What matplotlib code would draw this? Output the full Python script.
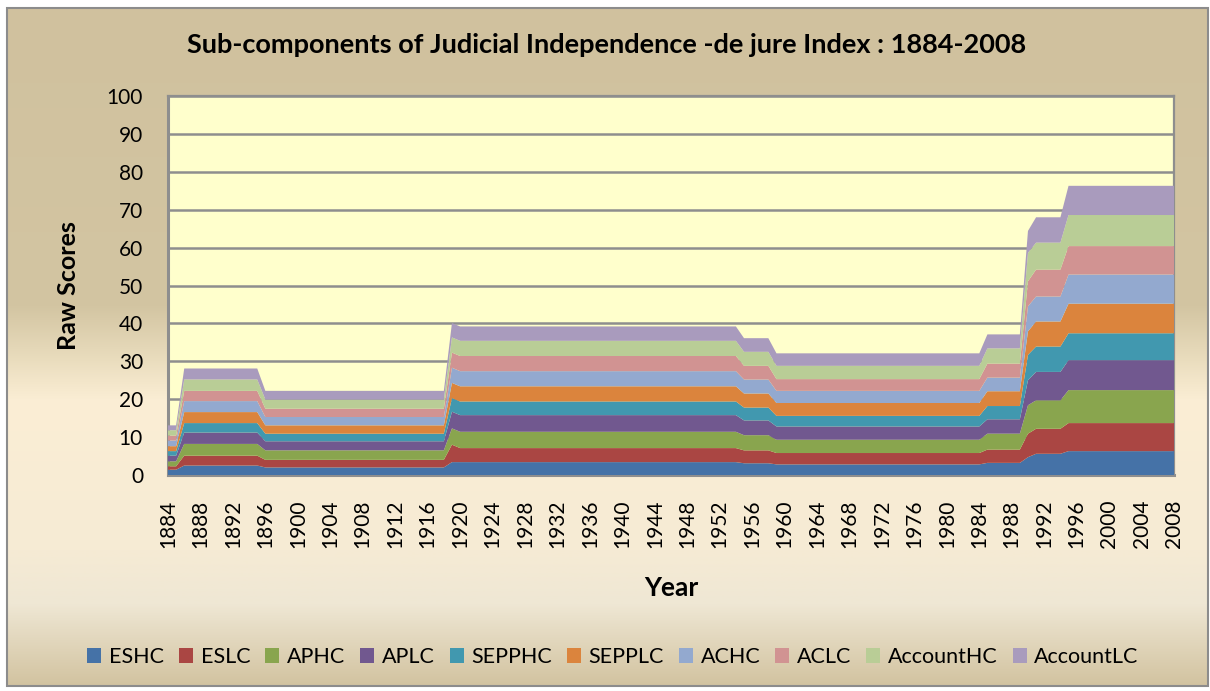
import numpy as np
import matplotlib
matplotlib.use('Agg')
import matplotlib.pyplot as plt
from matplotlib.colors import to_rgb
from matplotlib.patches import Rectangle

plt.rcParams['font.family'] = ['Lato', 'DejaVu Sans']

# Data: each series holds one value per period (the value holds until the next period start)
period_start = [1884, 1886, 1896, 1919, 1920, 1955, 1959, 1985, 1990, 1991, 1995]
ESHC      = [1.4, 2.5, 2.0, 3.4, 3.4, 3.1, 2.8, 3.2, 4.7, 5.6, 6.3]
ESLC      = [0.9, 2.6, 2.0, 4.6, 3.7, 3.4, 3.0, 3.5, 6.2, 6.6, 7.4]
APHC      = [1.3, 3.1, 2.5, 4.3, 4.3, 4.0, 3.5, 4.2, 7.5, 7.5, 8.7]
APLC      = [1.5, 3.0, 2.4, 4.4, 4.4, 3.9, 3.5, 3.8, 6.6, 7.5, 7.9]
SEPPHC    = [1.2, 2.5, 2.0, 3.6, 3.6, 3.4, 2.8, 3.5, 6.7, 6.7, 7.1]
SEPPLC    = [1.3, 2.9, 2.2, 4.0, 4.0, 3.7, 3.4, 3.9, 6.2, 6.6, 7.8]
ACHC      = [1.5, 2.9, 2.2, 4.0, 4.0, 3.7, 3.2, 3.6, 6.6, 6.6, 7.7]
ACLC      = [1.3, 2.7, 2.2, 4.0, 4.0, 3.6, 3.1, 3.7, 6.6, 7.1, 7.5]
AccountHC = [1.4, 3.0, 2.4, 4.0, 4.0, 3.7, 3.5, 4.0, 7.5, 7.1, 8.2]
AccountLC = [1.3, 2.9, 2.3, 3.8, 3.8, 3.6, 3.3, 3.7, 5.8, 6.7, 7.7]

series_names = ['ESHC', 'ESLC', 'APHC', 'APLC', 'SEPPHC', 'SEPPLC',
                'ACHC', 'ACLC', 'AccountHC', 'AccountLC']
series_vals = [ESHC, ESLC, APHC, APLC, SEPPHC, SEPPLC,
               ACHC, ACLC, AccountHC, AccountLC]
first_year, last_year = 1884, 2008

COLOURS = ['#4572A7', '#AA4643', '#89A54E', '#71588F', '#4198AF',
           '#DB843D', '#93A9CF', '#D19392', '#B9CD96', '#A99BBD']

years = np.arange(first_year, last_year + 1)
idx = np.searchsorted(period_start, years, side='right') - 1
stack = [np.asarray(v)[idx] for v in series_vals]

W, H = 1210, 691
fig = plt.figure(figsize=(W / 100, H / 100), dpi=100)

# chart area background (vertical gradient) and border
bg = fig.add_axes([0, 0, 1, 1], zorder=-5)
bg.set_axis_off()
stops = [(0.00, '#D0C19E'), (0.44, '#D3C5A2'), (0.52, '#EADDBE'),
         (0.58, '#FBEED5'), (0.80, '#F6EBD4'), (0.88, '#EFE7D4'),
         (1.00, '#D2C3A0')]
pos = np.array([s[0] for s in stops])
cols = np.array([to_rgb(s[1]) for s in stops])
t = np.linspace(0, 1, 400)
grad = np.stack([np.interp(t, pos, cols[:, k]) for k in range(3)], axis=1)
img = np.repeat(grad[:, None, :], 2, axis=1)
bg.imshow(img, aspect='auto', extent=[7 / W, 1208 / W, 1 - 686 / H, 1 - 8 / H],
          origin='upper', transform=bg.transAxes)
bg.set_xlim(0, 1)
bg.set_ylim(0, 1)
bg.add_patch(Rectangle((7 / W, 1 - 686 / H), 1201 / W, 678 / H,
                       fill=False, edgecolor='#8C8C8C', linewidth=1.5,
                       transform=bg.transAxes))

# plot area
left, right, top, bottom = 168, 1174, 96, 475
ax = fig.add_axes([left / W, 1 - bottom / H, (right - left) / W, (bottom - top) / H])
ax.set_facecolor('#FFFFCC')
ax.stackplot(years, *stack, colors=COLOURS, labels=series_names,
             linewidth=0, zorder=3)

ax.set_xlim(first_year, last_year)
ax.set_ylim(0, 100)
ax.set_yticks(np.arange(0, 101, 10))
ax.set_xticks(np.arange(first_year, last_year + 1, 4))
ax.tick_params(axis='y', length=0, pad=18, labelsize=15)
ax.tick_params(axis='x', length=0, pad=18, labelsize=15, labelrotation=90)
ax.grid(axis='y', color='#8E8E8E', linewidth=1.8, zorder=1)
ax.set_axisbelow(True)
for s in ax.spines.values():
    s.set_color('#8E8E8E')
    s.set_linewidth(1.6)
ax.spines['left'].set_linewidth(2.2)
ax.spines['bottom'].set_linewidth(2.2)

ax.set_ylabel('Raw Scores', fontsize=18, fontweight='bold', labelpad=19)
ax.set_xlabel('Year', fontsize=19, fontweight='bold', labelpad=20)

fig.text(607 / W, 1 - 45 / H,
         'Sub-components of Judicial Independence -de jure Index : 1884-2008',
         ha='center', va='center', fontsize=19.5, fontweight='bold')

fig.legend(loc='center', bbox_to_anchor=(613 / W, 1 - 657 / H), ncol=10,
           frameon=False, fontsize=15.5, handlelength=0.65, handleheight=0.7,
           handletextpad=0.35, columnspacing=0.7)

plt.savefig('out.png', dpi=100)
plt.close()
